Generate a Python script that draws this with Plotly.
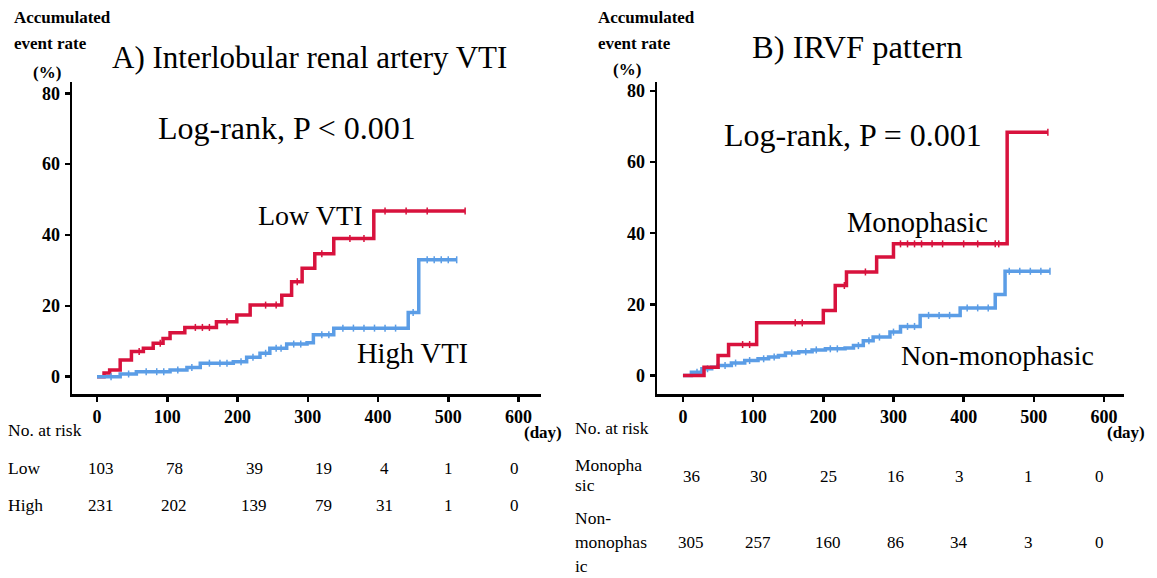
import plotly.graph_objects as go

# ---------------- data ----------------
low_days = [0, 10, 18, 33, 49, 66, 80, 94, 104, 125, 170, 199, 218, 263, 277, 292, 310, 337, 394, 524]
low_rate = [0, 1.0, 1.9, 4.7, 7.1, 8.0, 9.4, 10.8, 12.4, 13.9, 15.5, 17.4, 20.2, 23.0, 26.8, 30.6, 34.7, 39.0, 46.8, 46.8]
low_cens = [60, 90, 140, 150, 160, 185, 240, 255, 285, 320, 360, 380, 410, 440, 470, 524]

high_days = [0, 33, 56, 104, 128, 147, 194, 213, 232, 246, 270, 299, 308, 337, 443, 458, 512]
high_rate = [0, 0.75, 1.4, 1.9, 2.6, 3.8, 4.2, 5.5, 6.6, 8.0, 9.2, 9.6, 11.8, 13.7, 18.1, 33.0, 33.0]
high_cens = [20, 45, 70, 85, 95, 115, 135, 160, 175, 185, 205, 222, 240, 255, 262, 280, 290, 320, 330,
             350, 365, 380, 395, 410, 425, 450, 470, 480, 490, 500, 512]

mono_days = [0, 30, 50, 65, 105, 200, 217, 233, 276, 300, 462, 520]
mono_rate = [0, 2.3, 5.6, 8.7, 14.8, 18.3, 25.3, 29.1, 33.3, 37.0, 68.4, 68.4]
mono_cens = [85, 95, 160, 170, 230, 260, 310, 320, 330, 340, 355, 370, 400, 420, 445, 450, 520]

non_days = [0, 12, 27, 41, 50, 69, 88, 107, 122, 136, 146, 165, 184, 203, 231, 243, 257, 271, 295, 310, 338, 395, 445, 459, 523]
non_rate = [0, 0.9, 1.9, 2.3, 2.8, 3.5, 4.2, 4.7, 5.2, 5.6, 6.3, 6.7, 7.2, 7.5, 7.7, 8.4, 9.8, 10.8, 12.2, 13.8, 16.9, 19.0, 22.8, 29.3, 29.3]
non_cens = [20, 35, 60, 75, 95, 115, 130, 155, 175, 190, 210, 220, 250, 265, 280, 300, 320, 330, 350,
            365, 380, 405, 420, 435, 465, 480, 495, 510, 523]

tick_days = [0, 100, 200, 300, 400, 500, 600]
y_ticks = [0, 20, 40, 60, 80]

risk_low = ["103", "78", "39", "19", "4", "1", "0"]
risk_high = ["231", "202", "139", "79", "31", "1", "0"]
risk_mono = ["36", "30", "25", "16", "3", "1", "0"]
risk_non = ["305", "257", "160", "86", "34", "3", "0"]

RED = "#D8123D"
BLUE = "#5B9DE6"
W, H = 1157, 578
SERIF = "Liberation Serif"


def step_val(days, rates, t):
    v = rates[0]
    for d, r in zip(days, rates):
        if d <= t:
            v = r
    return v


def px(x):
    return x / W


def py(y):
    return 1 - y / H


fig = go.Figure()

curves = [
    (low_days, low_rate, low_cens, RED, "x", "y"),
    (high_days, high_rate, high_cens, BLUE, "x", "y"),
    (non_days, non_rate, non_cens, BLUE, "x2", "y2"),
    (mono_days, mono_rate, mono_cens, RED, "x2", "y2"),
]
for d, r, c, col, xa, ya in curves:
    fig.add_trace(go.Scatter(x=d, y=r, mode="lines", line=dict(color=col, width=3.5, shape="hv"),
                             xaxis=xa, yaxis=ya, showlegend=False, hoverinfo="skip"))
    fig.add_trace(go.Scatter(x=c, y=[step_val(d, r, t) for t in c], mode="markers",
                             marker=dict(symbol="line-ns", size=5, line=dict(color=col, width=1.5)),
                             xaxis=xa, yaxis=ya, showlegend=False, hoverinfo="skip"))

axis_common = dict(showline=True, linecolor="black", linewidth=2.5, ticks="outside", ticklen=5,
                   tickwidth=2.5, tickcolor="black", showgrid=False, zeroline=False, automargin=False,
                   tickfont=dict(family=SERIF, size=18, color="black", weight="bold"))

fig.update_layout(
    template="none",
    width=W, height=H, margin=dict(l=0, r=0, t=0, b=0, autoexpand=False),
    paper_bgcolor="white", plot_bgcolor="white",
    xaxis=dict(domain=[px(72), px(541)], range=[-35.6, 632], tickvals=tick_days, anchor="y", **axis_common),
    yaxis=dict(domain=[py(394), py(82)], range=[-4.9, 83.2], tickvals=y_ticks, anchor="x", **axis_common),
    xaxis2=dict(domain=[px(657), px(1124)], range=[-37, 628.5], tickvals=tick_days, anchor="y2", **axis_common),
    yaxis2=dict(domain=[py(394), py(82)], range=[-5.2, 82.5], tickvals=y_ticks, anchor="x2", **axis_common),
)
fig.update_xaxes(ticklabelstandoff=0)
fig.update_yaxes(ticklabelstandoff=1)

ann = []


def text(x, y, s, size=15, bold=False, xanchor="center", yanchor="middle"):
    ann.append(dict(x=px(x), y=py(y), xref="paper", yref="paper", text=f"<b>{s}</b>" if bold else s,
                    showarrow=False, xanchor=xanchor, yanchor=yanchor, borderpad=0,
                    font=dict(family=SERIF, size=size, color="black")))


# left panel texts
text(13, 17, "Accumulated", 17, True, "left")
text(13, 43, "event rate", 17, True, "left")
text(47, 72, "(%)", 17, True)
text(309, 58, "A) Interlobular renal artery VTI", 31)
text(287, 128, "Log-rank, P < 0.001", 32)
text(310, 215, "Low VTI", 28)
text(412, 353, "High VTI", 28.5)
text(543, 432, "(day)", 17, True)
text(7, 430, "No. at risk", 17.5, False, "left")
text(7, 468, "Low", 17.5, False, "left")
text(7, 505, "High", 17.5, False, "left")
left_cols = [101, 174, 254, 323, 384, 448, 514]
for xc, a, b in zip(left_cols, risk_low, risk_high):
    text(xc, 468, a, 17)
    text(xc, 505, b, 17)

# right panel texts
text(597, 17, "Accumulated", 17, True, "left")
text(597, 43, "event rate", 17, True, "left")
text(627, 70, "(%)", 17, True)
text(857, 47, "B) IRVF pattern", 32.5)
text(853, 135, "Log-rank, P = 0.001", 32)
text(917, 222, "Monophasic", 28.5)
text(997, 355, "Non-monophasic", 28)
text(1126, 432, "(day)", 17, True)
text(574, 428, "No. at risk", 17.5, False, "left")
text(574, 465, "Monopha", 17.5, False, "left")
text(574, 485, "sic", 17.5, False, "left")
text(574, 518, "Non-", 17.5, False, "left")
text(574, 542, "monophas", 17.5, False, "left")
text(574, 566, "ic", 17.5, False, "left")
right_cols = [691, 758, 828, 895, 959, 1028, 1099]
for xc, a, b in zip(right_cols, risk_mono, risk_non):
    text(xc, 476, a, 17)
    text(xc, 542, b, 17)

fig.update_layout(annotations=ann)
fig.write_html("out.html", config={"displayModeBar": False, "staticPlot": True},
               post_script="document.body.style.margin='0';document.body.style.overflow='hidden';")
